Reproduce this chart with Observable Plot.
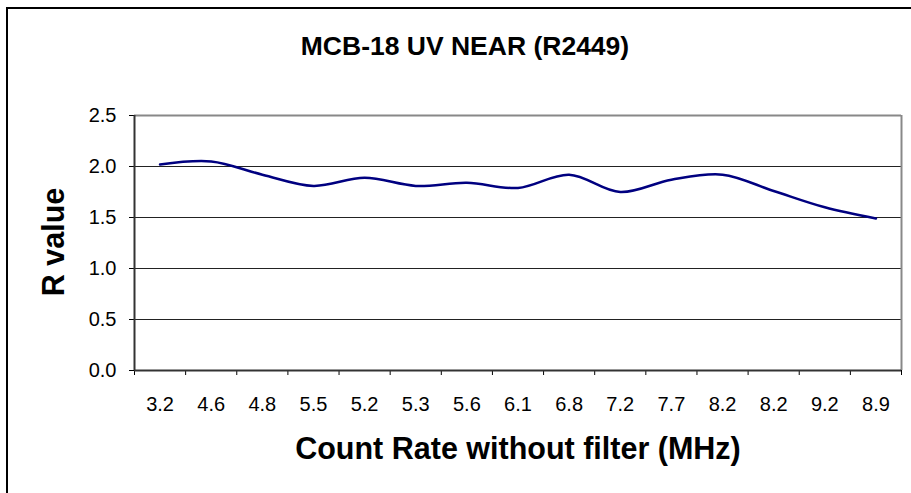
<!DOCTYPE html>
<html>
<head>
<meta charset="utf-8">
<script src="https://cdn.jsdelivr.net/npm/d3@7"></script>
<script src="https://cdn.jsdelivr.net/npm/@observablehq/plot@0.6"></script>
<style>
  html, body { margin: 0; padding: 0; background: #fff; }
  #chart svg { display: block; }
</style>
</head>
<body>
<div id="chart"></div>
<script>
const chartTitle = "MCB-18 UV NEAR (R2449)";
const xTitle = "Count Rate without filter (MHz)";
const yTitle = "R value";
const countRateLabels = ["3.2","4.6","4.8","5.5","5.2","5.3","5.6","6.1","6.8","7.2","7.7","8.2","8.2","9.2","8.9"];
const rValues = [2.02,2.05,1.92,1.81,1.89,1.81,1.84,1.79,1.92,1.75,1.87,1.92,1.76,1.60,1.49];
const yTicks = [0, 0.5, 1.0, 1.5, 2.0, 2.5];
const gridValues = [0.5, 1.0, 1.5, 2.0];

const data = rValues.map((v, i) => ({pos: i + 0.5, label: countRateLabels[i], r: v}));
const n = countRateLabels.length;

const plot = Plot.plot({
  width: 911,
  height: 493,
  marginLeft: 134,
  marginRight: 10,
  marginTop: 115,
  marginBottom: 123,
  style: {fontFamily: "'Liberation Sans', Arial, sans-serif", fontSize: "20px", color: "#000", background: "#fff"},
  x: {type: "linear", domain: [0, n]},
  y: {domain: [0, 2.5]},
  marks: [
    Plot.ruleY(gridValues, {stroke: "#222", strokeWidth: 1}),
    Plot.ruleY([2.5], {stroke: "#888", strokeWidth: 2}),
    Plot.ruleX([n], {stroke: "#888", strokeWidth: 2}),
    Plot.axisY({ticks: yTicks, tickFormat: d3.format(".1f"), tickSize: 5, tickPadding: 13, label: null, fontSize: 20}),
    Plot.axisX({ticks: d3.range(n + 1), tickFormat: () => "", tickSize: 5, label: null}),
    Plot.axisX({ticks: d3.range(n).map(i => i + 0.5), tickFormat: d => countRateLabels[Math.round(d - 0.5)], tickSize: 0, tickPadding: 26, label: null, fontSize: 20}),
    Plot.ruleX([0], {stroke: "#333", strokeWidth: 2}),
    Plot.ruleY([0], {stroke: "#333", strokeWidth: 2}),
    Plot.line(data, {x: "pos", y: "r", stroke: "#000080", strokeWidth: 2.5, curve: "catmull-rom"})
  ]
});

const svg = d3.select(plot);
svg.append("rect")
  .attr("x", 7).attr("y", 8).attr("width", 1000).attr("height", 1000)
  .attr("fill", "none").attr("stroke", "#000").attr("stroke-width", 2);
svg.append("text")
  .attr("x", 465).attr("y", 55)
  .attr("text-anchor", "middle")
  .attr("font-weight", "bold").attr("font-size", 26.5)
  .attr("fill", "#000")
  .text(chartTitle);
svg.append("text")
  .attr("x", 518).attr("y", 459)
  .attr("text-anchor", "middle")
  .attr("font-weight", "bold").attr("font-size", 30.5)
  .attr("fill", "#000")
  .text(xTitle);
svg.append("text")
  .attr("transform", "translate(64,242) rotate(-90)")
  .attr("text-anchor", "middle")
  .attr("font-weight", "bold").attr("font-size", 30.5)
  .attr("fill", "#000")
  .text(yTitle);

document.getElementById("chart").appendChild(plot);
</script>
</body>
</html>
